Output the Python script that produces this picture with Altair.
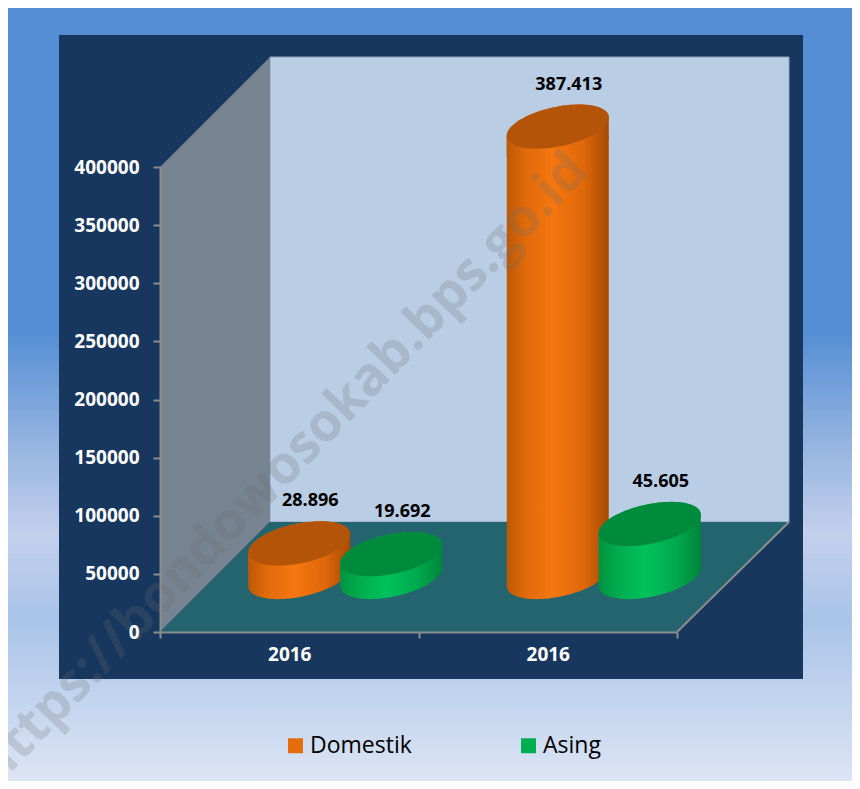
import json
import math
import altair as alt
import pandas as pd

# ---------------- data ----------------
years = ["2016", "2016"]
series = ["Domestik", "Asing"]
domestik = [28896, 387413]
asing = [19692, 45605]
y_ticks = [0, 50000, 100000, 150000, 200000, 250000, 300000, 350000, 400000]
watermark = "https://bondowosokab.bps.go.id"

rows = []
for i, yr in enumerate(years):
    for s, vals in zip(series, [domestik, asing]):
        v = vals[i]
        rows.append({"slot": i, "year": yr, "series": s, "value": v,
                     "label": f"{v:,}".replace(",", ".")})
df = pd.DataFrame(rows)

# ---------------- style ----------------
W, H = 517, 465
DEPTH = 110
HALF = 55
CYL_W = 102
SHIFT = {"Domestik": HALF - 45, "Asing": HALF + 47}
ORANGE, GREEN = "#e46c0a", "#00b050"
FONT = "Open Sans"


def grad(stops, vertical=False):
    return alt.Gradient(
        gradient="linear",
        stops=[alt.GradientStop(color=c, offset=o) for o, c in stops],
        x1=0, y1=0, x2=0 if vertical else 1, y2=1 if vertical else 0)


BODY = {
    "Domestik": grad([(0, "#bd5806"), (0.18, "#e06a0a"), (0.45, "#f47610"),
                      (0.75, "#e0680a"), (1, "#a44a04")]),
    "Asing": grad([(0, "#00943f"), (0.18, "#00ab4e"), (0.45, "#00c25c"),
                   (0.75, "#00aa4e"), (1, "#00853a")]),
}
TOP = {"Domestik": "#b35408", "Asing": "#008a3c"}


def ellipse_pts(b=0.38, rot_deg=-12, n=96):
    t = math.radians(rot_deg)
    pts = []
    for k in range(n):
        u = 2 * math.pi * k / n
        x, y = math.cos(u), b * math.sin(u)
        pts.append((x * math.cos(t) - y * math.sin(t),
                    x * math.sin(t) + y * math.cos(t)))
    ext = max(abs(p[0]) for p in pts)
    return [(x / ext, y / ext) for x, y in pts]


def hull(points):
    pts = sorted(set(points))

    def cross(o, a, b):
        return (a[0] - o[0]) * (b[1] - o[1]) - (a[1] - o[1]) * (b[0] - o[0])
    lower, upper = [], []
    for p in pts:
        while len(lower) >= 2 and cross(lower[-2], lower[-1], p) <= 0:
            lower.pop()
        lower.append(p)
    for p in reversed(pts):
        while len(upper) >= 2 and cross(upper[-2], upper[-1], p) <= 0:
            upper.pop()
        upper.append(p)
    return lower[:-1] + upper[:-1]


def to_path(pts):
    return "M" + " L".join(f"{x:.4f},{y:.4f}" for x, y in pts) + " Z"


PTS = ellipse_pts()
ELL = to_path(PTS)
DN = abs(min(PTS, key=lambda p: p[0])[1])          # tangent offset, normalised
CAPSULE = to_path(hull([(x, y - DN) for x, y in PTS] + [(x, y + DN) for x, y in PTS]))
ELL_SIZE = CYL_W ** 2
DELTA = DN * CYL_W / 2                              # tangent offset in pixels

x_scale = alt.Scale(domain=[0, 1], paddingInner=0, paddingOuter=0)
y_scale = alt.Scale(domain=[0, 400000], nice=False, zero=True)

X_AXIS = alt.Axis(title=None, labelExpr=f"{json.dumps(years)}[datum.value]",
                  tickBand="extent", labelAngle=0, labelFont=FONT, labelFontWeight="bold",
                  labelFontSize=19, labelColor="white", labelPadding=7,
                  tickColor="#8c8c8c", tickSize=6, tickWidth=2,
                  domainColor="#8c8c8c", domainWidth=2, zindex=1, grid=False)
Y_AXIS = alt.Axis(title=None, values=y_ticks, format="d", grid=False,
                  labelFont=FONT, labelFontWeight="bold", labelFontSize=19,
                  labelColor="white", labelPadding=14,
                  tickColor="#8c8c8c", tickSize=7, tickWidth=2,
                  domainColor="#8c8c8c", domainWidth=2, zindex=1)


def X():
    return alt.X("slot:O", scale=x_scale, axis=X_AXIS, title=None)


def Y(field="value:Q"):
    return alt.Y(field, scale=y_scale, axis=Y_AXIS, title=None)


one = pd.DataFrame({"k": [0]})

# hidden layer that only provides the legend (covered by the backgrounds)
legend_layer = alt.Chart(df).mark_point(filled=True, shape="square", size=4).encode(
    x=X(), y=Y(),
    color=alt.Color("series:N", sort=series,
                    scale=alt.Scale(domain=series, range=[ORANGE, GREEN]),
                    legend=alt.Legend(title=None, orient="none", legendX=124, legendY=567,
                                      direction="horizontal", symbolType="square",
                                      symbolSize=225, symbolStrokeWidth=0, symbolOpacity=1,
                                      labelFont=FONT, labelFontSize=23, labelColor="black",
                                      labelOffset=3, columnPadding=105)))

bg = alt.Chart(one).mark_rect(
    color=grad([(0, "#558ed5"), (0.42, "#558ed5"), (0.55, "#8fb0df"),
                (0.68, "#c3d0ec"), (0.79, "#a9c4e8"), (1, "#dce4f4")], vertical=True)
).encode(x=alt.value(-152), x2=alt.value(692), y=alt.value(-159), y2=alt.value(614))

navy = alt.Chart(one).mark_rect(color="#17375e").encode(
    x=alt.value(-101), x2=alt.value(643), y=alt.value(-132), y2=alt.value(512))

back_wall = alt.Chart(one).mark_rect(color="#b9cde5", stroke="#8ea4c0", strokeWidth=1).encode(
    x=alt.value(DEPTH), x2=alt.value(W + DEPTH + 2), y=alt.value(-DEPTH), y2=alt.value(H - DEPTH))

left_wall = alt.Chart(one).mark_point(
    shape=f"M0,0 L{DEPTH},{-DEPTH} L{DEPTH},{H - DEPTH} L0,{H} Z",
    size=4, filled=True, color="#768391", opacity=1, strokeWidth=0
).encode(x=alt.value(0), y=alt.value(0))

floor = alt.Chart(one).mark_point(
    shape=f"M0,{H} L{DEPTH},{H - DEPTH} L{W + DEPTH + 2},{H - DEPTH} L{W},{H} Z",
    size=4, filled=True, color="#24646f", opacity=1, strokeWidth=0
).encode(x=alt.value(0), y=alt.value(0))

floor_edge = alt.Chart(one).mark_point(
    shape=f"M{W},{H} L{W + DEPTH + 2},{H - DEPTH}",
    size=4, filled=False, color="#8c8c8c", opacity=1, strokeWidth=2
).encode(x=alt.value(0), y=alt.value(0))

axes_layer = alt.Chart(df).mark_point(opacity=0, size=1).encode(x=X(), y=Y())

cyl_layers = []
for s in series:
    d = df[df["series"] == s]
    base = alt.Chart(d)
    dx = SHIFT[s]
    common = dict(size=ELL_SIZE, filled=True, opacity=1, strokeWidth=0, xOffset=dx)
    zero_y = alt.Y("zero:Q", scale=y_scale, axis=Y_AXIS, title=None)
    bottom_cap = base.transform_calculate(zero="0").mark_point(
        shape=CAPSULE, color=BODY[s], yOffset=-HALF - DELTA, **common
    ).encode(x=X(), y=zero_y)
    body = base.mark_bar(width=CYL_W, color=BODY[s], xOffset=dx,
                         yOffset=-HALF + DELTA, y2Offset=-HALF - DELTA
                         ).encode(x=X(), y=Y(), y2=alt.datum(0))
    top_cap = base.mark_point(shape=CAPSULE, color=BODY[s], yOffset=-HALF + DELTA,
                              **common).encode(x=X(), y=Y())
    top = base.mark_point(shape=ELL, color=TOP[s], yOffset=-HALF, **common
                          ).encode(x=X(), y=Y())
    cyl_layers += [bottom_cap, body, top_cap, top]

labels = []
for s in series:
    d = df[df["series"] == s]
    labels.append(alt.Chart(d).mark_text(
        font=FONT, fontWeight="bold", fontSize=18, color="black", align="center",
        baseline="middle", xOffset=SHIFT[s] + 11, yOffset=-HALF - 42
    ).encode(x=X(), y=Y(), text="label:N"))

wm = alt.Chart(pd.DataFrame({"t": [watermark]})).mark_text(
    font=FONT, fontWeight="bold", fontSize=53, color="#6f6f6f", opacity=0.22,
    angle=314, align="center", baseline="middle"
).encode(x=alt.value(122), y=alt.value(302), text="t:N")

chart = alt.layer(
    legend_layer, bg, navy, back_wall, left_wall, floor, floor_edge, axes_layer,
    *cyl_layers, *labels, wm
).properties(
    width=W, height=H,
    autosize=alt.AutoSizeParams(type="none"),
    padding={"left": 152, "top": 159, "right": 175, "bottom": 149},
).configure_view(stroke=None).configure(background="white")

chart.save("out.html", embed_options={"renderer": "svg", "actions": False})
